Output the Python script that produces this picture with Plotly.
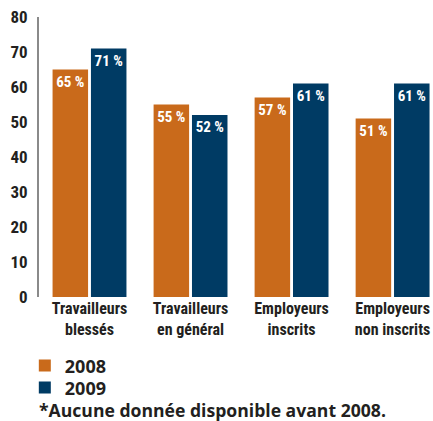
import plotly.graph_objects as go

categories = ["Travailleurs<br>blessés", "Travailleurs<br>en général", "Employeurs<br>inscrits", "Employeurs<br>non inscrits"]
values_2008 = [65, 55, 57, 51]
values_2009 = [71, 52, 61, 61]
series_names = ["2008", "2009"]
y_ticks = [0, 10, 20, 30, 40, 50, 60, 70, 80]
footnote = "*Aucune donnée disponible avant 2008."

FONT = "Liberation Sans Narrow, Roboto Condensed, Arial Narrow, Open Sans, sans-serif"
WIDE = "Open Sans, Lato, sans-serif"
DARK = "#231f20"
ORANGE = "#c96a1b"
BLUE = "#003b64"

fig = go.Figure()
for name, vals, col, leg in [(series_names[0], values_2008, ORANGE, "legend"),
                             (series_names[1], values_2009, BLUE, "legend2")]:
    fig.add_trace(go.Bar(
        x=categories, y=vals, name="<b>" + name + "</b>", legend=leg,
        marker=dict(color=col, line=dict(width=0)),
        texttemplate="%{y}\u00a0%", textposition="inside", insidetextanchor="end",
        textangle=0, textfont=dict(color="white", size=15, family=FONT, weight="bold"),
        cliponaxis=False,
    ))

legend_common = dict(x=-0.036, xanchor="left", yanchor="top", orientation="v",
                     font=dict(size=18, family=WIDE, color=DARK),
                     itemsizing="constant", bgcolor="rgba(0,0,0,0)")

fig.update_layout(
    width=433, height=421,
    margin=dict(l=39, r=0, t=17, b=124, autoexpand=False),
    paper_bgcolor="white", plot_bgcolor="white",
    barmode="group", bargap=0.24, bargroupgap=0.075,
    font=dict(family=FONT, color=DARK),
    showlegend=True,
    legend=dict(y=-0.18, **legend_common),
    legend2=dict(y=-0.2586, **legend_common),
    xaxis=dict(range=[-0.5, 3.4], showline=False, showgrid=False, ticks="",
               tickfont=dict(size=16, family=FONT, color=DARK, weight="bold"), fixedrange=True),
    yaxis=dict(range=[0, 80], tickvals=y_ticks, showgrid=False, zeroline=False,
               showline=True, linecolor="#8a8a8a", linewidth=2, ticks="",
               ticklabelstandoff=6,
               tickfont=dict(size=17, family=FONT, color=DARK, weight="bold")),
    annotations=[dict(text="<b>" + footnote + "</b>", x=-0.006, xref="paper", xanchor="left",
                      y=-0.405, yref="paper", yanchor="middle", showarrow=False,
                      font=dict(size=17.6, family=WIDE, color=DARK))],
)
fig.write_html("out.html", config={"displayModeBar": False},
               post_script="document.body.style.margin='0';")
